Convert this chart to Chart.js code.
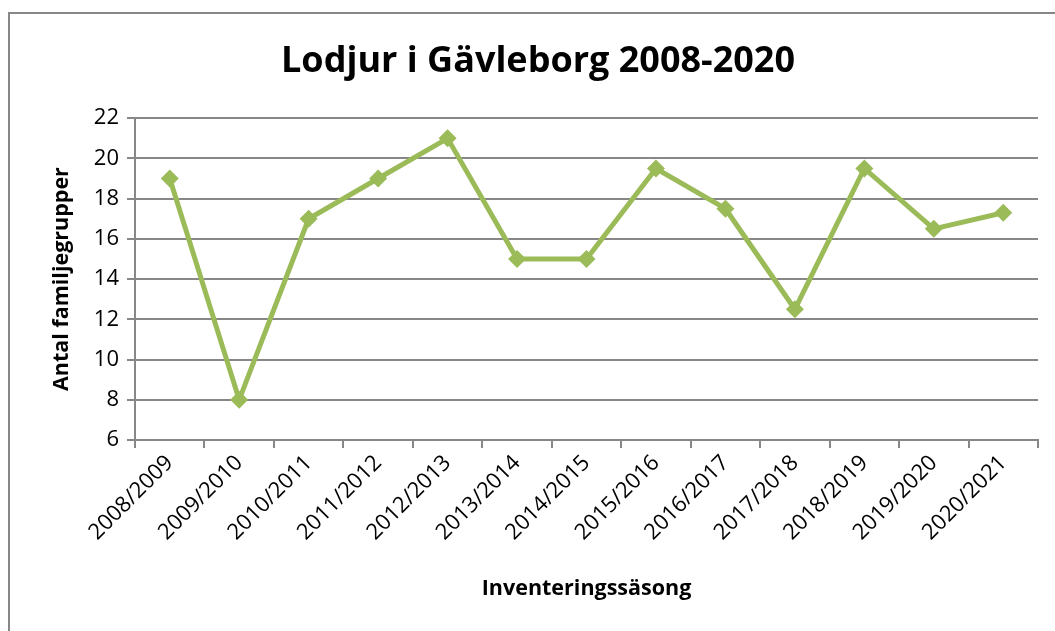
<!DOCTYPE html>
<html>
<head>
<meta charset="utf-8">
<script src="https://cdn.jsdelivr.net/npm/chart.js@4/dist/chart.umd.min.js"></script>
<style>
  html, body { margin: 0; padding: 0; background: #fff; overflow: hidden; }
  #frame { position: absolute; left: 8px; top: 12px; width: 1100px; height: 700px; border: 2px solid #878787; }
  #wrap { position: absolute; left: 0; top: 0; width: 1055px; height: 631px; }
</style>
</head>
<body>
<div id="frame"></div>
<div id="wrap"><canvas id="chart" width="1055" height="631"></canvas></div>
<script>
const seasons = ['2008/2009', '2009/2010', '2010/2011', '2011/2012', '2012/2013', '2013/2014', '2014/2015',
  '2015/2016', '2016/2017', '2017/2018', '2018/2019', '2019/2020', '2020/2021'];
const familyGroups = [19, 8, 17, 19, 21, 15, 15, 19.5, 17.5, 12.5, 19.5, 16.5, 17.3];

const chartTitle = 'Lodjur i Gävleborg 2008-2020';
const yTitle = 'Antal familjegrupper';
const xTitle = 'Inventeringssäsong';

const green = '#9BBB59';
const gray = '#878787';
const fontFamily = '"Open Sans", Lato, sans-serif';

Chart.defaults.font.family = fontFamily;
Chart.defaults.color = '#000';

new Chart(document.getElementById('chart'), {
  type: 'line',
  data: {
    labels: seasons,
    datasets: [{
      data: familyGroups,
      borderColor: green,
      backgroundColor: green,
      borderWidth: 5,
      pointStyle: 'rectRot',
      pointRadius: 9,
      pointBorderWidth: 0,
      tension: 0,
    }],
  },
  options: {
    responsive: false,
    animation: false,
    // left padding 38 + y width 97 puts the plot edge at x=135 and centres the title like the original
    layout: { padding: { left: 38, right: 17, top: 0, bottom: 0 } },
    plugins: {
      legend: { display: false },
      tooltip: { enabled: false },
      title: {
        display: true,
        text: chartTitle,
        font: { size: 36, weight: 'bold' },
        color: '#000',
        padding: { top: 40, bottom: 35 },
      },
    },
    scales: {
      x: {
        offset: true,
        grid: { display: true, drawOnChartArea: false, drawTicks: true, tickLength: 8, color: gray, lineWidth: 2, offset: true },
        border: { color: gray, width: 2 },
        ticks: { font: { size: 22 }, color: '#000', maxRotation: 45, minRotation: 45, padding: 2, autoSkip: false },
        title: { display: true, text: xTitle, font: { size: 21.5, weight: 'bold' }, color: '#000', padding: { top: 4, bottom: 29 } },
        afterFit: (scale) => { scale.height = 191; },
      },
      y: {
        min: 6,
        max: 22,
        ticks: { stepSize: 2, font: { size: 22 }, color: '#000', padding: 8 },
        grid: { color: gray, lineWidth: 2, tickLength: 8 },
        border: { color: gray, width: 2 },
        title: { display: true, text: yTitle, font: { size: 21.5, weight: 'bold' }, color: '#000', padding: { top: 11, bottom: 4 } },
        afterFit: (scale) => { scale.width = 97; },
      },
    },
  },
});
</script>
</body>
</html>
